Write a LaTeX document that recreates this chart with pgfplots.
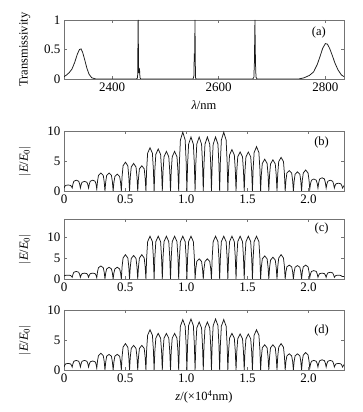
\documentclass[border=0pt]{standalone}
\usepackage{pgfplots}
\pgfplotsset{compat=1.18}
\usepackage{pgfplotstable}
\usepackage{fontspec}
\setmainfont{Liberation Serif}

\pgfplotstableread{
x b c d
0 0.5 0.7 0.5
0.006 0.75 0.8 0.8
0.014 0.93 0.88 1.02
0.0335 1.0 0.9 1.1
0.053 0.93 0.85 1.02
0.061 0.75 0.65 0.8
0.067 0.5 0.4 0.5
0.073 1.15 1.1 1.05
0.081 1.63 1.62 1.46
0.1005 1.8 1.8 1.6
0.120 1.63 1.62 1.46
0.128 1.15 1.1 1.05
0.134 0.5 0.4 0.5
0.140 1.05 0.9 1.05
0.148 1.46 1.28 1.46
0.1675 1.6 1.4 1.6
0.187 1.46 1.28 1.46
0.195 1.05 0.9 1.05
0.201 0.5 0.4 0.5
0.207 1.15 0.9 1.0
0.215 1.63 1.28 1.37
0.2345 1.8 1.4 1.5
0.254 1.63 1.28 1.37
0.262 1.15 0.9 1.0
0.268 0.3 0.3 0.3
0.274 1.6 1.7 1.5
0.282 2.6 2.7 2.4
0.3015 3.0 3.1 2.8
0.321 2.6 2.7 2.4
0.329 1.5 1.6 1.4
0.335 0 0 0
0.341 1.5 1.4 1.3
0.349 2.6 2.4 2.3
0.3685 3.0 2.8 2.6
0.388 2.6 2.4 2.3
0.396 1.5 1.4 1.3
0.402 0 0 0
0.408 1.4 1.4 1.3
0.416 2.4 2.4 2.3
0.4355 2.8 2.8 2.6
0.455 2.4 2.4 2.3
0.463 1.4 1.4 1.3
0.469 0 0 0
0.475 2.4 2.9 2.2
0.483 4.2 5.0 3.8
0.5025 4.8 5.8 4.4
0.522 4.2 5.0 3.8
0.530 2.4 2.9 2.2
0.536 0 0 0
0.542 2.3 2.8 2.1
0.550 4.0 4.9 3.6
0.5695 4.6 5.6 4.1
0.589 4.0 4.9 3.6
0.597 2.3 2.8 2.1
0.603 0 0 0
0.609 2.1 2.9 2.1
0.617 3.7 5.0 3.6
0.6365 4.2 5.8 4.1
0.656 3.7 5.0 3.6
0.664 2.1 2.9 2.1
0.670 0 0 0
0.676 3.6 5.1 3.4
0.684 6.3 8.9 5.8
0.7035 7.2 10.2 6.7
0.723 6.3 8.9 5.8
0.731 3.6 5.1 3.4
0.737 0 0 0
0.743 3.5 5.1 3.1
0.751 6.1 8.9 5.3
0.7705 7.0 10.2 6.1
0.790 6.1 8.9 5.3
0.798 3.5 5.1 3.1
0.804 0 0 0
0.810 3.3 5.1 3.1
0.818 5.7 8.9 5.3
0.8375 6.6 10.2 6.1
0.857 5.7 8.9 5.3
0.865 3.3 5.1 3.1
0.871 0 0 0
0.877 3.3 5.1 3.1
0.885 5.7 8.9 5.3
0.9045 6.6 10.2 6.1
0.924 5.7 8.9 5.3
0.932 3.3 5.1 3.1
0.938 0 0 0
0.944 4.9 5.1 4.2
0.952 8.5 8.9 7.3
0.9715 9.8 10.2 8.4
0.991 8.5 8.9 7.3
0.999 4.9 5.1 4.2
1.005 0 0 0
1.011 4.5 5.1 4.3
1.019 7.8 8.9 7.4
1.0385 9.0 10.2 8.5
1.058 7.8 8.9 7.4
1.066 4.5 5.1 4.3
1.072 0 0 0
1.078 4.5 2.4 4.0
1.086 7.8 4.2 7.0
1.1055 9.0 4.8 8.0
1.125 7.8 4.2 7.0
1.133 4.5 2.4 4.0
1.139 0 0 0
1.145 4.5 2.4 4.0
1.153 7.8 4.2 7.0
1.1725 9.0 4.8 8.0
1.192 7.8 4.2 7.0
1.200 4.5 2.4 4.0
1.206 0 0 0
1.212 4.5 5.1 4.3
1.220 7.8 8.9 7.4
1.2395 9.0 10.2 8.5
1.259 7.8 8.9 7.4
1.267 4.5 5.1 4.3
1.273 0 0 0
1.279 4.9 5.1 4.2
1.287 8.5 8.9 7.3
1.3065 9.8 10.2 8.4
1.326 8.5 8.9 7.3
1.334 4.9 5.1 4.2
1.340 0 0 0
1.346 3.5 5.1 3.1
1.354 6.0 8.9 5.3
1.3735 6.9 10.2 6.1
1.393 6.0 8.9 5.3
1.401 3.5 5.1 3.1
1.407 0 0 0
1.413 3.3 5.1 3.0
1.421 5.7 8.9 5.2
1.4405 6.5 10.2 6.0
1.460 5.7 8.9 5.2
1.468 3.3 5.1 3.0
1.474 0 0 0
1.480 3.3 5.1 3.0
1.488 5.7 8.9 5.2
1.5075 6.5 10.2 6.0
1.527 5.7 8.9 5.2
1.535 3.3 5.1 3.0
1.541 0 0 0
1.547 3.7 5.1 3.4
1.555 6.4 8.9 5.8
1.5745 7.4 10.2 6.7
1.594 6.4 8.9 5.8
1.602 3.7 5.1 3.4
1.608 0 0 0
1.614 2.7 2.8 2.1
1.622 4.6 4.8 3.7
1.6415 5.3 5.5 4.2
1.661 4.6 4.8 3.7
1.669 2.7 2.8 2.1
1.675 0 0 0
1.681 2.6 2.6 2.1
1.689 4.5 4.5 3.7
1.7085 5.2 5.2 4.2
1.728 4.5 4.5 3.7
1.736 2.6 2.6 2.1
1.742 0 0 0
1.748 2.8 2.9 2.2
1.756 4.9 5.0 3.8
1.7755 5.6 5.8 4.4
1.795 4.9 5.0 3.8
1.803 2.8 2.9 2.2
1.809 0 0 0
1.815 1.7 1.7 1.4
1.823 3.0 2.9 2.35
1.8425 3.4 3.3 2.7
1.862 3.0 2.9 2.35
1.870 1.7 1.7 1.4
1.876 0 0 0
1.882 1.6 1.6 1.4
1.890 2.8 2.8 2.35
1.9095 3.2 3.2 2.7
1.929 2.8 2.8 2.35
1.937 1.6 1.6 1.4
1.943 0 0 0
1.949 1.8 1.7 1.5
1.957 3.0 2.9 2.5
1.9765 3.5 3.3 2.9
1.996 3.0 2.9 2.5
2.004 1.8 1.7 1.5
2.010 0.3 0.3 0.3
2.016 1.2 1.2 1.0
2.024 1.8 1.8 1.45
2.0435 2.0 2.0 1.6
2.063 1.8 1.8 1.45
2.071 1.25 1.2 1.05
2.077 0.5 0.4 0.5
2.083 1.35 0.9 1.1
2.091 2.0 1.28 1.55
2.1105 2.2 1.4 1.7
2.130 2.0 1.28 1.55
2.138 1.35 0.9 1.1
2.144 0.5 0.4 0.5
2.150 1.15 1.0 1.05
2.158 1.63 1.45 1.46
2.1775 1.8 1.6 1.6
2.197 1.63 1.45 1.46
2.205 1.15 1.0 1.05
2.211 0.5 0.4 0.5
2.217 0.9 0.65 0.8
2.225 1.2 0.85 1.02
2.2445 1.3 0.9 1.1
2.264 1.2 0.85 1.02
2.272 0.9 0.65 0.8
2.278 0.5 0.6 0.5
2.29 0.9 0.6 0.9
}\fieldtab

\pgfplotstableread{
lam T
2310 0.04
2315 0.07
2320 0.11
2325 0.17
2330 0.28
2335 0.42
2339 0.50
2342 0.51
2345 0.45
2349 0.32
2353 0.18
2357 0.08
2362 0.02
2370 0.0
2446 0.0
2448 0.02
2449 1.0
2450 0.10
2450.8 0.18
2451.6 0.17
2452.5 0.02
2454 0.0
2552 0.0
2553.5 0.05
2554.2 0.40
2555 0.38
2555.6 1.0
2556.5 0.02
2558 0.0
2664 0.0
2666 0.03
2667 0.28
2668 1.0
2669 0.28
2670 0.03
2672 0.0
2750 0.0
2760 0.02
2770 0.06
2778 0.12
2785 0.25
2790 0.38
2795 0.52
2800 0.60
2804 0.59
2808 0.52
2813 0.40
2818 0.27
2824 0.15
2830 0.07
2835 0.04
}\spectab

\pgfplotsset{
  panel/.style={
    scale only axis, width=280pt, anchor=south west,
    axis line style={black!55},
    every tick/.style={black!55},
    tick align=inside, major tick length=3pt,
    tick label style={font=\fontsize{13}{14}\selectfont},
    label style={font=\fontsize{12.5}{14}\selectfont},
    /pgf/number format/assume math mode=true,
    ylabel style={at={(axis description cs:-0.14,0.5)}, anchor=center},
  },
  field/.style={panel, height=60pt, xmin=0, xmax=2.29, ymin=0,
    xtick={0,0.5,1,1.5,2}, xticklabels={0,0.5,1.0,1.5,2.0},
    ylabel={$|$\textit{E}/\textit{E}\textsubscript{0}$|$}},
  dline/.style={black!90, line width=0.75pt},
}

\begin{document}
\begin{tikzpicture}
\useasboundingbox (0,0) rectangle (363pt,412pt);

\begin{axis}[panel, at={(64pt,333pt)}, height=59pt,
  xmin=2310, xmax=2835, ymin=0, ymax=1,
  xtick={2400,2600,2800}, xticklabels={2400,2600,2800},
  ytick={0,0.5,1}, yticklabels={0,0.5,1},
  ylabel={Transmissivity},
  xlabel={\textit{λ}/nm},
  xlabel style={at={(axis description cs:0.5,-0.44)}, anchor=center}]
\addplot[dline] table[x=lam, y=T] {\spectab};
\node[font=\fontsize{12.5}{14}\selectfont] at (axis description cs:0.91,0.78) {(a)};
\end{axis}

\begin{axis}[field, at={(64pt,221pt)}, ymax=10, ytick={0,5,10}]
\addplot[dline] table[x=x, y=b] {\fieldtab};
\node[font=\fontsize{12.5}{14}\selectfont] at (axis description cs:0.92,0.81) {(b)};
\end{axis}

\begin{axis}[field, at={(64pt,133pt)}, ymax=14.3, ytick={0,5,10}]
\addplot[dline] table[x=x, y=c] {\fieldtab};
\node[font=\fontsize{12.5}{14}\selectfont] at (axis description cs:0.92,0.85) {(c)};
\end{axis}

\begin{axis}[field, at={(64pt,42pt)}, ymax=10, ytick={0,5,10},
  xlabel={\textit{z}/(×10\textsuperscript{4}nm)},
  xlabel style={at={(axis description cs:0.5,-0.45)}, anchor=center}]
\addplot[dline] table[x=x, y=d] {\fieldtab};
\node[font=\fontsize{12.5}{14}\selectfont] at (axis description cs:0.92,0.66) {(d)};
\end{axis}

\end{tikzpicture}
\end{document}
